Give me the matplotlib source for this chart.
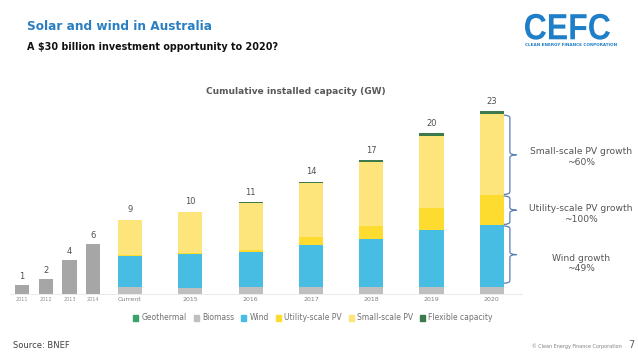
import matplotlib
matplotlib.use("Agg")
import matplotlib.pyplot as plt
import numpy as np
from matplotlib.path import Path
from matplotlib.patches import PathPatch, Rectangle
from matplotlib.textpath import TextPath
from matplotlib.font_manager import FontProperties
from matplotlib.transforms import Affine2D

# ---- data ----
hist_years = ["2011", "2012", "2013", "2014"]
hist_values = [1.1, 1.9, 4.2, 6.3]
hist_labels = ["1", "2", "4", "6"]

categories = ["Current", "2015", "2016", "2017", "2018", "2019", "2020"]
geothermal = [0.0, 0.0, 0.0, 0.0, 0.0, 0.0, 0.0]
biomass = [0.85, 0.8, 0.85, 0.85, 0.85, 0.85, 0.85]
wind = [3.9, 4.2, 4.4, 5.25, 6.0, 7.1, 7.75]
utility_pv = [0.1, 0.1, 0.25, 1.0, 1.6, 2.75, 3.75]
small_pv = [4.4, 5.1, 5.9, 6.75, 8.0, 9.1, 10.1]
flexible = [0.0, 0.05, 0.05, 0.15, 0.25, 0.3, 0.4]
total_labels = ["9", "10", "11", "14", "17", "20", "23"]

series_names = ["Geothermal", "Biomass", "Wind", "Utility-scale PV", "Small-scale PV", "Flexible capacity"]
series_colors = ["#3AA26B", "#BFBFBF", "#47BDE4", "#FDDC2F", "#FDE57C", "#3D7A4B"]

growth_texts = ["Small-scale PV growth\n~60%", "Utility-scale PV growth\n~100%", "Wind growth\n~49%"]

W, H = 638, 359
fig = plt.figure(figsize=(W / 100, H / 100), dpi=100)
fig.patch.set_facecolor("white")

def fx(px):
    return px / W

def fy(py):
    return 1 - py / H

YMAX = 25
base_py = 294
px_per = 8.0
ax_h = YMAX * px_per

# ---- main axes ----
spacing = 60.3
left_px = 130 - spacing / 2
ax = fig.add_axes([fx(left_px), fy(base_py), fx(7 * spacing), ax_h / H])
x = np.arange(len(categories))
bw = 0.4
stack = [geothermal, biomass, wind, utility_pv, small_pv, flexible]
bottom = np.zeros(len(categories))
for vals, c in zip(stack, series_colors):
    ax.bar(x, vals, bw, bottom=bottom, color=c, linewidth=0)
    bottom += np.array(vals)
for xi, top, lab in zip(x, bottom, total_labels):
    ax.text(xi, top + 0.7, lab, ha="center", va="bottom", fontsize=6, color="#505050")
ax.set_xlim(-0.5, 6.5)
ax.set_ylim(0, YMAX)
ax.set_xticks(x)
ax.set_xticklabels(categories, fontsize=4.5, color="#808080")
ax.tick_params(axis="x", length=0, pad=2)
ax.set_yticks([])
for s in ["top", "right", "left"]:
    ax.spines[s].set_visible(False)
ax.spines["bottom"].set_color("#E6E6E6")
ax.spines["bottom"].set_linewidth(0.6)
ax.patch.set_alpha(0)

# ---- historical axes ----
hsp = 23.7
ax2 = fig.add_axes([fx(22 - hsp / 2), fy(base_py), fx(4 * hsp), ax_h / H])
xh = np.arange(len(hist_years))
ax2.bar(xh, hist_values, 0.6, color="#A6A6A6", linewidth=0)
for xi, v, lab in zip(xh, hist_values, hist_labels):
    ax2.text(xi, v + 0.5, lab, ha="center", va="bottom", fontsize=6, color="#505050")
ax2.set_xlim(-0.5, 3.5)
ax2.set_ylim(0, YMAX)
ax2.set_xticks(xh)
ax2.set_xticklabels(hist_years, fontsize=3.5, color="#909090")
ax2.tick_params(axis="x", length=0, pad=2)
ax2.set_yticks([])
for s in ["top", "right", "left"]:
    ax2.spines[s].set_visible(False)
ax2.spines["bottom"].set_color("#E6E6E6")
ax2.spines["bottom"].set_linewidth(0.6)
ax2.patch.set_alpha(0)

# ---- braces ----
def brace(ax, xd, y0, y1, d=0.1, tip=0.11, color="#5A7DB3"):
    ym = (y0 + y1) / 2
    r = 0.35
    verts = [(xd - d, y1), (xd, y1), (xd, y1 - r),
             (xd, ym + r),
             (xd, ym), (xd + tip, ym),
             (xd, ym), (xd, ym - r),
             (xd, y0 + r),
             (xd, y0), (xd - d, y0)]
    codes = [Path.MOVETO, Path.CURVE3, Path.CURVE3,
             Path.LINETO,
             Path.CURVE3, Path.CURVE3,
             Path.CURVE3, Path.CURVE3,
             Path.LINETO,
             Path.CURVE3, Path.CURVE3]
    ax.add_patch(PathPatch(Path(verts, codes), fill=False, edgecolor=color, lw=0.9, clip_on=False))

i = len(categories) - 1
wb = geothermal[i] + biomass[i]
wt = wb + wind[i]
ut = wt + utility_pv[i]
st = ut + small_pv[i]
bx = i + 0.3
brace(ax, bx, ut + 0.1, st - 0.1)
brace(ax, bx, wt + 0.1, ut - 0.1)
brace(ax, bx, wb + 0.5, wt - 0.1)
text_shift = [-0.25, -0.45, -0.9]
for (y0, y1), t, sh in zip([(ut, st), (wt, ut), (wb, wt)], growth_texts, text_shift):
    ax.text(7.48, (y0 + y1) / 2 + sh, t, ha="center", va="center", fontsize=6.6,
            color="#555555", linespacing=1.25, clip_on=False)

# ---- legend ----
handles = [Rectangle((0, 0), 1, 1, color=c) for c in series_colors]
fig.legend(handles, series_names, loc="center", bbox_to_anchor=(fx(313), fy(318)),
           ncol=6, frameon=False, fontsize=5.5, handlelength=0.7, handleheight=0.7,
           handletextpad=0.4, columnspacing=0.9, labelcolor="#707070")

# ---- titles ----
fig.text(fx(27), fy(27), "Solar and wind in Australia", fontsize=8.7, fontweight="bold",
         color="#2A7EC1", va="center", ha="left")
fig.text(fx(27), fy(47), "A $30 billion investment opportunity to 2020?", fontsize=6.9,
         fontweight="bold", color="#111111", va="center", ha="left")
fig.text(fx(296), fy(91), "Cumulative installed capacity (GW)", fontsize=6.5, fontweight="bold",
         color="#595959", va="center", ha="center")

# ---- logo (condensed bold lettering) ----
logo_fp = FontProperties(family=["Liberation Sans", "DejaVu Sans"], weight="bold")
tp = TextPath((0, 0), "CEFC", size=36.5, prop=logo_fp)
bb = tp.get_extents()
sx = 85.0 / bb.width
logo_tr = Affine2D().translate(-bb.x0, 0).scale(sx, 1.0).translate(525, H - 39.3)
fig.add_artist(PathPatch(tp, transform=logo_tr, facecolor="#1F7EC8", edgecolor="none"))
fig.text(fx(571.5), fy(45), "CLEAN ENERGY FINANCE CORPORATION", fontsize=3.0, fontweight="bold",
         color="#1F7EC8", ha="center", va="center")

# ---- footer ----
fig.text(fx(13), fy(345), "Source: BNEF", fontsize=6, color="#404040", va="center", ha="left")
fig.text(fx(622), fy(346), "© Clean Energy Finance Corporation", fontsize=3.5, color="#808080",
         va="center", ha="right")
fig.text(fx(628), fy(345), "7", fontsize=7, color="#606060", va="center", ha="left")

fig.savefig("out.png", dpi=100, facecolor="white")
